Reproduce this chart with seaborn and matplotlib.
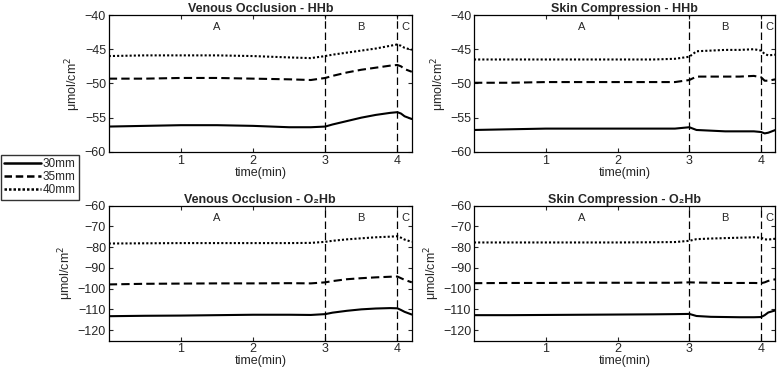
import numpy as np
import pandas as pd
import matplotlib
matplotlib.use("Agg")
import matplotlib.pyplot as plt
import seaborn as sns
from matplotlib.lines import Line2D

sns.set_style("ticks")
plt.rcParams['font.family'] = ['Liberation Sans', 'DejaVu Sans']

# time points (min)
time = [0, 0.5, 1, 1.5, 2, 2.5, 2.8, 3.0, 3.1, 3.3, 3.5, 3.7, 3.9, 4.0, 4.05, 4.1, 4.2]
probes = ['30mm', '35mm', '40mm']

# Venous occlusion - HHb
vo_hhb_30 = [-56.3, -56.2, -56.1, -56.1, -56.2, -56.4, -56.4, -56.3, -56.0, -55.5, -55.0, -54.6, -54.3, -54.2, -54.4, -54.8, -55.2]
vo_hhb_35 = [-49.3, -49.3, -49.2, -49.2, -49.3, -49.4, -49.5, -49.2, -48.9, -48.4, -48.0, -47.7, -47.4, -47.3, -47.5, -47.9, -48.3]
vo_hhb_40 = [-46.0, -45.9, -45.9, -45.9, -46.0, -46.2, -46.3, -46.0, -45.8, -45.5, -45.2, -44.9, -44.5, -44.3, -44.5, -44.8, -45.1]

# Skin compression - HHb
sc_hhb_30 = [-56.8, -56.7, -56.6, -56.6, -56.6, -56.6, -56.6, -56.4, -56.8, -56.9, -57.0, -57.0, -57.0, -57.1, -57.3, -57.2, -56.8]
sc_hhb_35 = [-49.9, -49.9, -49.8, -49.8, -49.8, -49.8, -49.8, -49.5, -49.0, -49.0, -49.0, -49.0, -48.9, -49.1, -49.6, -49.6, -49.4]
sc_hhb_40 = [-46.5, -46.5, -46.5, -46.5, -46.5, -46.5, -46.4, -46.1, -45.3, -45.2, -45.1, -45.1, -45.0, -45.2, -45.7, -45.9, -45.8]

# Venous occlusion - O2Hb
vo_o2_30 = [-113.3, -113.1, -113.0, -112.8, -112.6, -112.6, -112.7, -112.3, -111.6, -110.7, -110.0, -109.6, -109.4, -109.5, -110.3, -111.2, -112.5]
vo_o2_35 = [-98.0, -97.7, -97.6, -97.5, -97.5, -97.4, -97.5, -97.0, -96.4, -95.5, -95.0, -94.6, -94.3, -94.2, -95.0, -95.8, -97.0]
vo_o2_40 = [-78.3, -78.2, -78.1, -78.1, -78.1, -78.1, -78.0, -77.5, -77.0, -76.3, -75.8, -75.3, -75.0, -74.8, -75.5, -76.4, -77.5]

# Skin compression - O2Hb
sc_o2_30 = [-112.8, -112.8, -112.7, -112.6, -112.5, -112.4, -112.3, -112.2, -113.2, -113.6, -113.7, -113.8, -113.8, -113.7, -112.8, -111.5, -110.5]
sc_o2_35 = [-97.4, -97.3, -97.3, -97.2, -97.2, -97.2, -97.2, -97.0, -97.1, -97.2, -97.3, -97.3, -97.3, -97.4, -97.0, -96.3, -95.5]
sc_o2_40 = [-77.8, -77.8, -77.8, -77.8, -77.8, -77.7, -77.6, -77.0, -76.2, -75.9, -75.7, -75.5, -75.3, -75.5, -76.3, -76.4, -76.0]

panels = [
    ('Venous Occlusion - HHb', [vo_hhb_30, vo_hhb_35, vo_hhb_40], (-60, -40), np.arange(-60, -39, 5)),
    ('Skin Compression - HHb', [sc_hhb_30, sc_hhb_35, sc_hhb_40], (-60, -40), np.arange(-60, -39, 5)),
    ('Venous Occlusion - O\u2082Hb', [vo_o2_30, vo_o2_35, vo_o2_40], (-125, -60), np.arange(-120, -59, 10)),
    ('Skin Compression - O\u2082Hb', [sc_o2_30, sc_o2_35, sc_o2_40], (-125, -60), np.arange(-120, -59, 10)),
]

dash_map = {'30mm': '', '35mm': (4, 2), '40mm': (1, 1)}

fig = plt.figure(figsize=(7.77, 3.75), dpi=100)
positions = [
    [0.140, 0.595, 0.390, 0.365],
    [0.610, 0.595, 0.388, 0.365],
    [0.140, 0.092, 0.390, 0.360],
    [0.610, 0.092, 0.388, 0.360],
]

for pos, (title, series, ylim, yticks) in zip(positions, panels):
    ax = fig.add_axes(pos)
    rows = []
    for name, vals in zip(probes, series):
        rows.append(pd.DataFrame({'time': time, 'value': vals, 'probe': name}))
    df = pd.concat(rows, ignore_index=True)
    sns.lineplot(data=df, x='time', y='value', style='probe', dashes=dash_map,
                 color='black', linewidth=1.5, legend=False, ax=ax)
    for xv in [3, 4]:
        ax.axvline(xv, color='black', linestyle=(0, (6, 3)), linewidth=0.9)
    for lbl, xv in [('A', 1.5), ('B', 3.5), ('C', 4.11)]:
        ax.text(xv, 0.91, lbl, transform=ax.get_xaxis_transform(),
                ha='center', va='center', fontsize=8)
    ax.set_xlim(0, 4.2)
    ax.set_ylim(*ylim)
    ax.set_xticks([1, 2, 3, 4])
    ax.set_yticks(yticks)
    ax.tick_params(direction='in', top=True, right=True, labelsize=9, length=3, width=0.8, pad=2)
    ax.set_title(title, fontsize=9, fontweight='bold', pad=2)
    ax.set_xlabel('time(min)', fontsize=9, labelpad=0)
    ax.set_ylabel('\u03bcmol/cm$^2$', fontsize=9, labelpad=1)
    for sp in ax.spines.values():
        sp.set_linewidth(0.9)
        sp.set_color('black')

handles = [
    Line2D([], [], color='black', linewidth=1.8, linestyle='-'),
    Line2D([], [], color='black', linewidth=1.8, linestyle=(0, (3, 1.5))),
    Line2D([], [], color='black', linewidth=1.8, linestyle=(0, (1, 0.8))),
]
fig.legend(handles, probes, loc='upper left', bbox_to_anchor=(0.001, 0.587),
           fontsize=8.5, frameon=True, fancybox=False, edgecolor='black',
           handlelength=3.1, handletextpad=0.15, borderpad=0.3, labelspacing=0.08,
           borderaxespad=0)

fig.savefig('out.png', dpi=100)
